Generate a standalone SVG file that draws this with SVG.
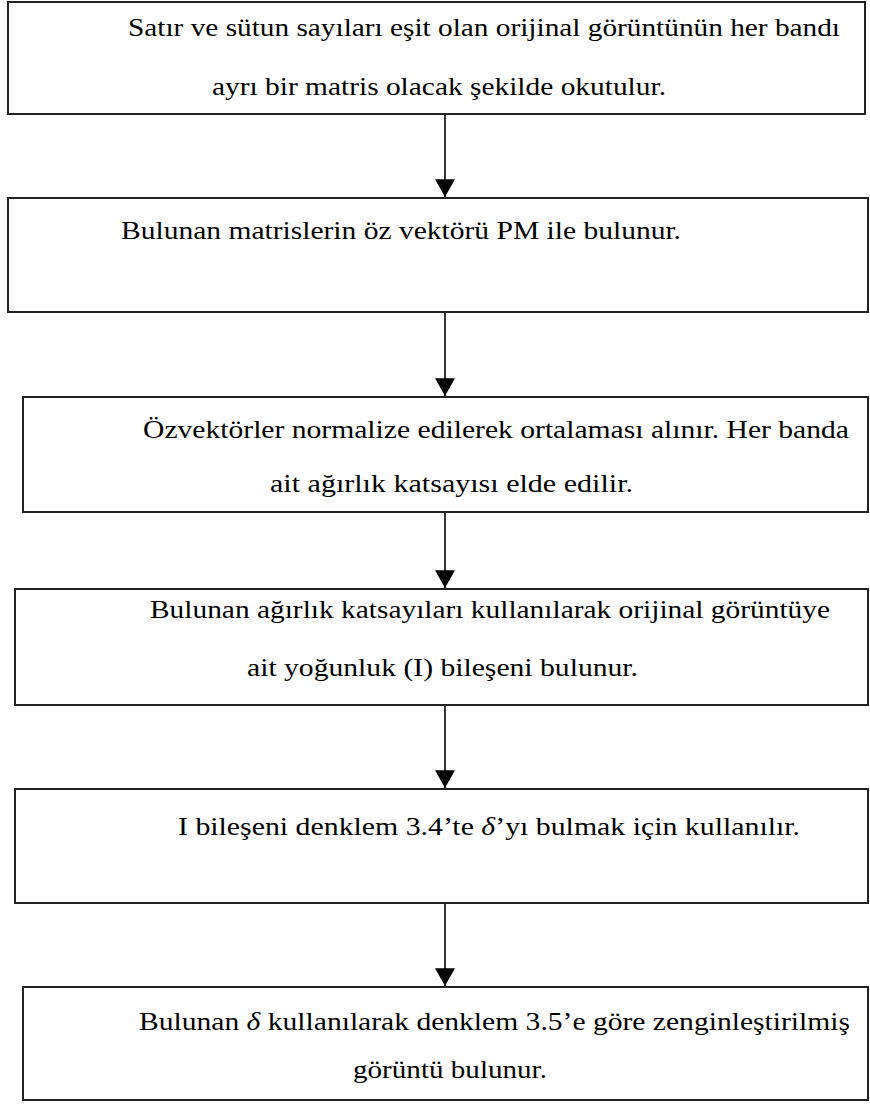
<svg xmlns="http://www.w3.org/2000/svg" width="870" height="1104" viewBox="0 0 870 1104">
<style>
.box{fill:#fff;stroke:#222;stroke-width:2}
.t{font-family:"Liberation Serif","Times New Roman",serif;font-size:26px;fill:#000}
.c{stroke:#000;stroke-width:1.6;fill:none}
.i{font-style:italic}
</style>
<defs>
<marker id="ah" markerUnits="userSpaceOnUse" markerWidth="18" markerHeight="20" refX="16" refY="9" orient="auto" viewBox="0 0 16 18">
<path d="M0,0 L16,9 L0,18 Z" fill="#000"/>
</marker>
</defs>
<rect width="870" height="1104" fill="#fff"/>
<g id="n1">
<rect class="box" x="8" y="2" width="857" height="112"/>
<text class="t" x="128" y="36" textLength="712" lengthAdjust="spacingAndGlyphs">Satır ve sütun sayıları eşit olan orijinal görüntünün her bandı</text>
<text class="t" x="212" y="95" textLength="454" lengthAdjust="spacingAndGlyphs">ayrı bir matris olacak şekilde okutulur.</text>
</g>
<g id="n2">
<rect class="box" x="8" y="198" width="860" height="114"/>
<text class="t" x="121" y="239" textLength="560" lengthAdjust="spacingAndGlyphs">Bulunan matrislerin öz vektörü PM ile bulunur.</text>
</g>
<g id="n3">
<rect class="box" x="23" y="397" width="845" height="115"/>
<text class="t" x="143" y="438" textLength="706" lengthAdjust="spacingAndGlyphs">Özvektörler normalize edilerek ortalaması alınır. Her banda</text>
<text class="t" x="270" y="492" textLength="363" lengthAdjust="spacingAndGlyphs">ait ağırlık katsayısı elde edilir.</text>
</g>
<g id="n4">
<rect class="box" x="15" y="589" width="853" height="116"/>
<text class="t" x="150" y="618" textLength="680" lengthAdjust="spacingAndGlyphs">Bulunan ağırlık katsayıları kullanılarak orijinal görüntüye</text>
<text class="t" x="247" y="676" textLength="391" lengthAdjust="spacingAndGlyphs">ait yoğunluk (I) bileşeni bulunur.</text>
</g>
<g id="n5">
<rect class="box" x="15" y="789" width="853" height="114"/>
<text class="t" x="178" y="835" textLength="622" lengthAdjust="spacingAndGlyphs">I bileşeni denklem 3.4’te <tspan class="i">δ</tspan>’yı bulmak için kullanılır.</text>
</g>
<g id="n6">
<rect class="box" x="23" y="987" width="845" height="113"/>
<text class="t" x="139" y="1030" textLength="711" lengthAdjust="spacingAndGlyphs">Bulunan <tspan class="i">δ</tspan> kullanılarak denklem 3.5’e göre zenginleştirilmiş</text>
<text class="t" x="353" y="1078" textLength="194" lengthAdjust="spacingAndGlyphs">görüntü bulunur.</text>
</g>
<g id="connectors">
<line class="c" x1="445" y1="115" x2="445" y2="197" marker-end="url(#ah)"/>
<line class="c" x1="445" y1="313" x2="445" y2="396" marker-end="url(#ah)"/>
<line class="c" x1="445" y1="513" x2="445" y2="588" marker-end="url(#ah)"/>
<line class="c" x1="445" y1="706" x2="445" y2="788" marker-end="url(#ah)"/>
<line class="c" x1="445" y1="904" x2="445" y2="986" marker-end="url(#ah)"/>
</g>
</svg>
